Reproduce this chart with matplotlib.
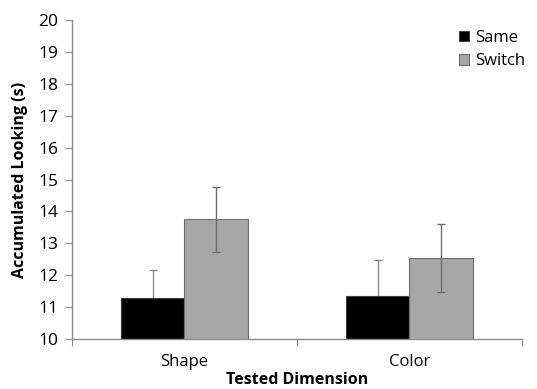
import numpy as np
import matplotlib.pyplot as plt

plt.rcParams['font.family'] = ['Open Sans', 'DejaVu Sans']

dimensions = ["Shape", "Color"]
same_vals = [11.29, 11.35]
same_err = [0.88, 1.13]
switch_vals = [13.76, 12.53]
switch_err = [1.02, 1.07]

fig = plt.figure(figsize=(5.37, 3.89), dpi=100)
ax = fig.add_axes([0.134, 0.1285, 0.838, 0.82])

x = np.arange(len(dimensions))
w = 0.284
axis_gray = "#8c8c8c"

# same-condition error bars sit behind the black bars (only the upper half shows)
ax.errorbar(x - w / 2, same_vals, yerr=same_err, fmt="none", ecolor="#8c8c8c",
            elinewidth=1, capsize=3, capthick=1, zorder=1)
ax.bar(x - w / 2, same_vals, w, color="black", edgecolor="#404040",
       linewidth=0.8, label="Same", zorder=2)
ax.bar(x + w / 2, switch_vals, w, color="#a6a6a6", edgecolor="#6e6e6e",
       linewidth=0.8, label="Switch", zorder=2)
ax.errorbar(x + w / 2, switch_vals, yerr=switch_err, fmt="none", ecolor="#6e6e6e",
            elinewidth=1, capsize=3, capthick=1, zorder=3)

ax.set_ylim(10, 20)
ax.set_yticks(range(10, 21))
ax.set_xlim(-0.5, 1.5)
ax.set_xticks([-0.5, 0.5, 1.5])
ax.set_xticklabels([])
ax.set_xticks(x, minor=True)
ax.set_xticklabels(dimensions, minor=True)
ax.tick_params(axis="x", which="minor", length=0, pad=11, labelsize=12)
ax.tick_params(axis="x", which="major", length=5, color=axis_gray, direction="out")
ax.tick_params(axis="y", length=5, color=axis_gray, labelsize=12.5, pad=5)

for s in ["top", "right"]:
    ax.spines[s].set_visible(False)
for s in ["left", "bottom"]:
    ax.spines[s].set_color(axis_gray)
    ax.spines[s].set_linewidth(1)

ax.set_ylabel("Accumulated Looking (s)", fontsize=11.5, fontweight="bold", labelpad=7)
ax.set_xlabel("Tested Dimension", fontsize=11.5, fontweight="bold", labelpad=1)

ax.legend(loc="upper left", bbox_to_anchor=(0.845, 0.99), frameon=False, fontsize=12,
          handlelength=0.6, handleheight=0.6, handletextpad=0.35, labelspacing=0.45,
          borderaxespad=0)

fig.savefig("out.png", dpi=100)
